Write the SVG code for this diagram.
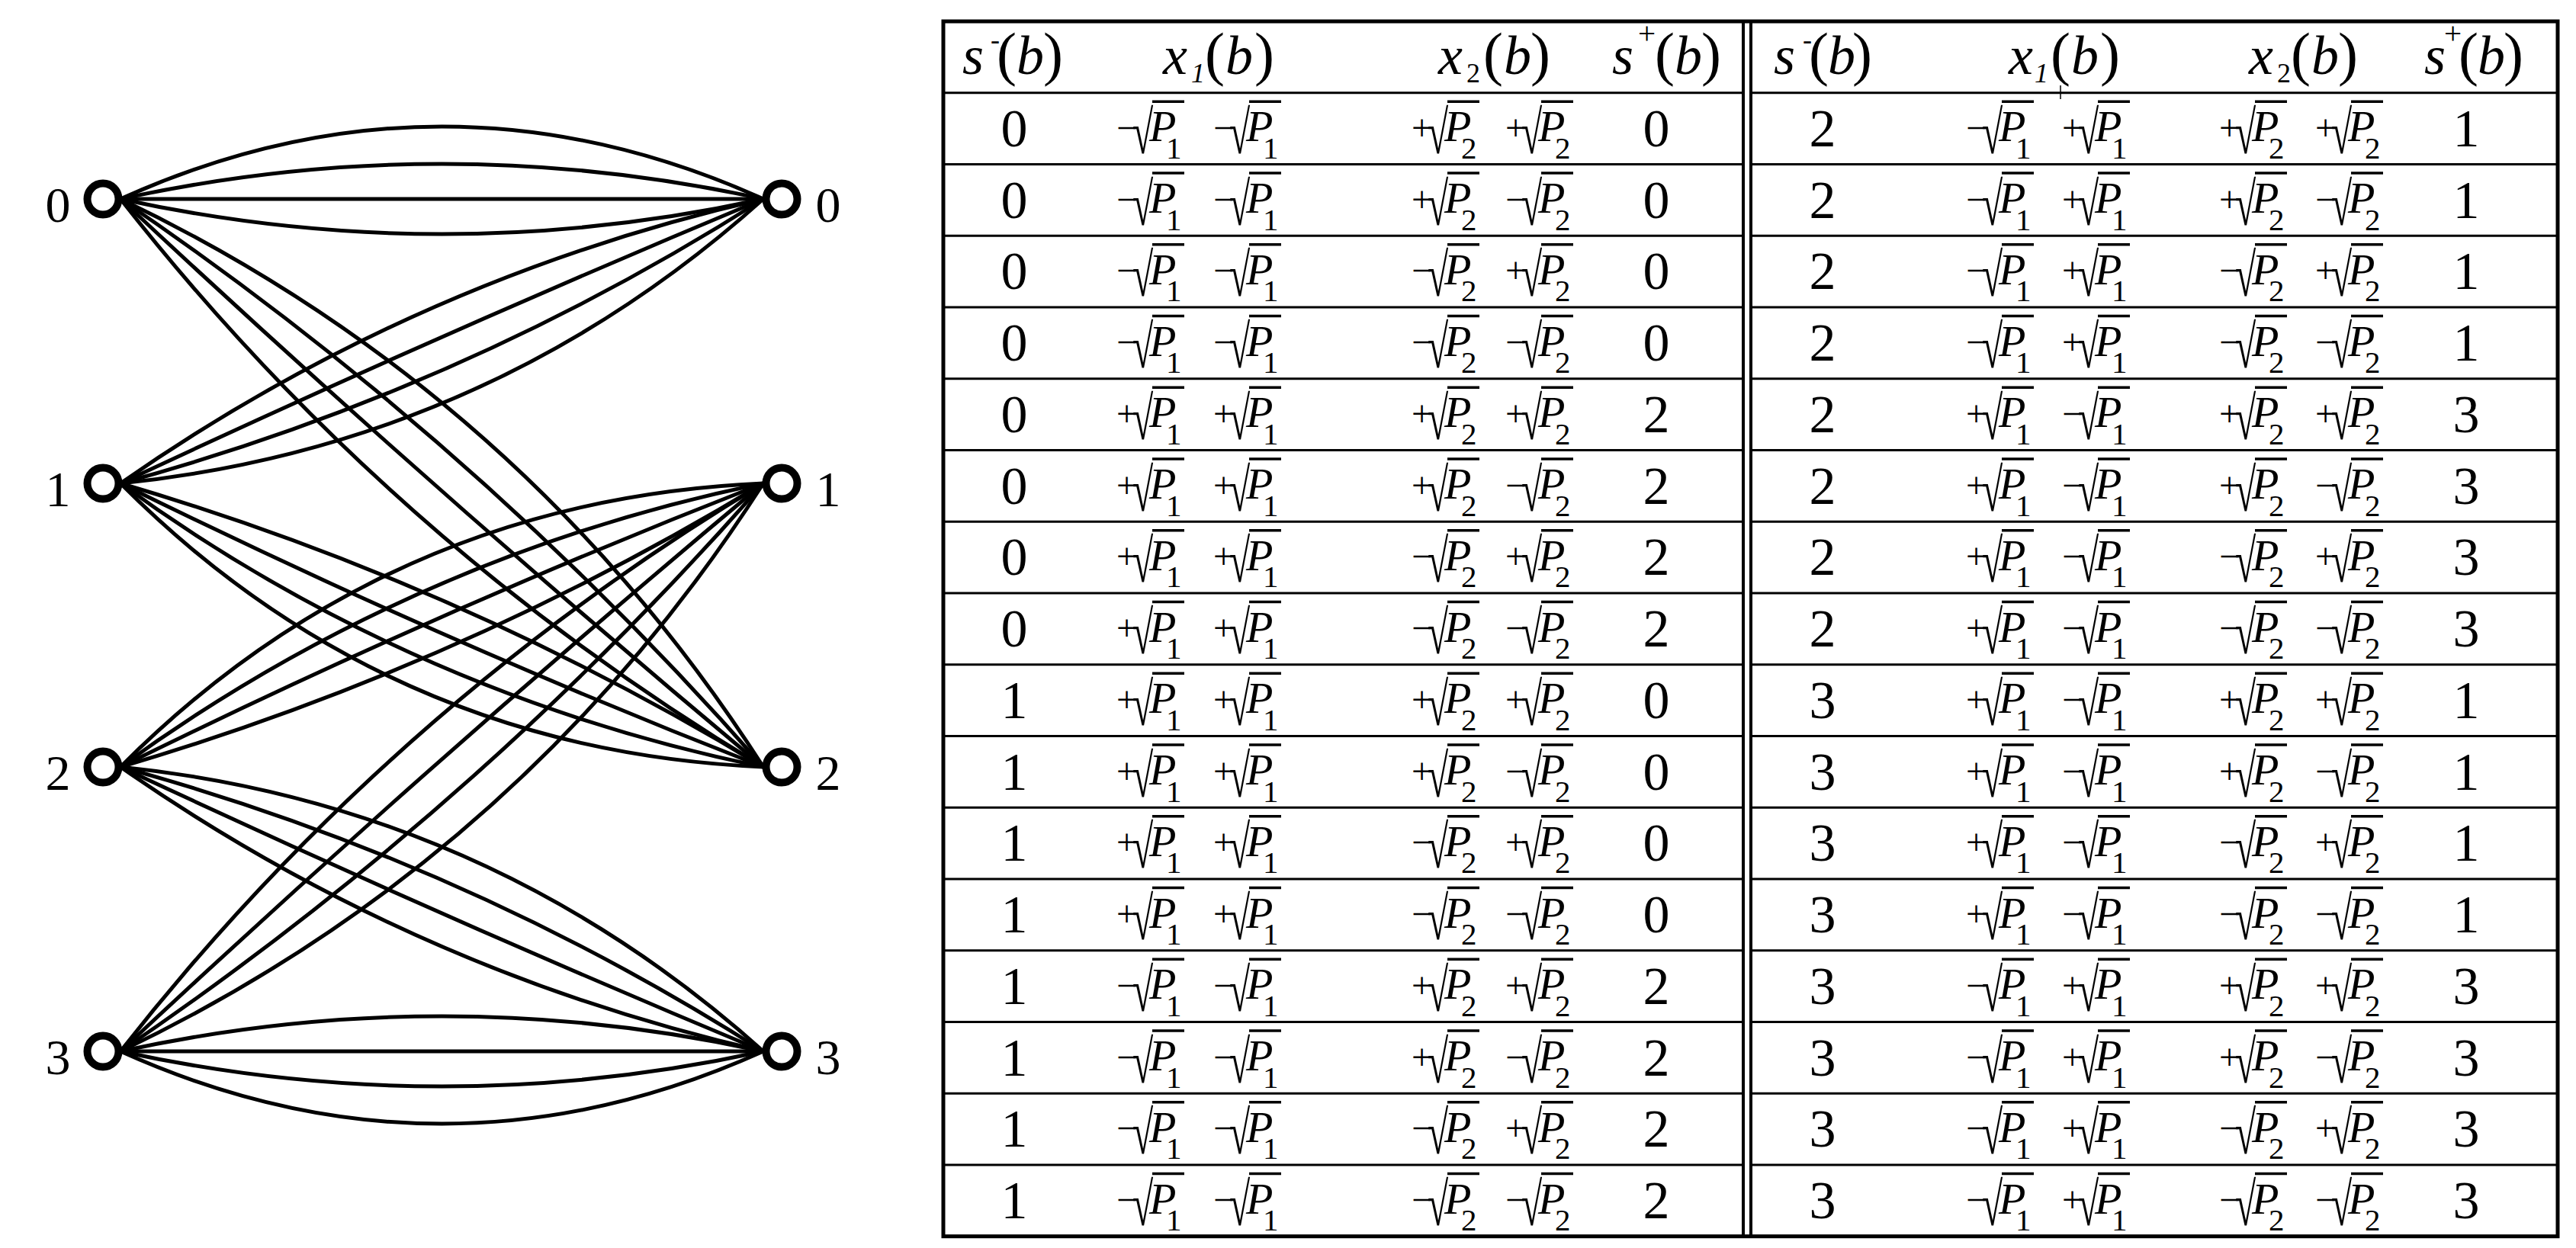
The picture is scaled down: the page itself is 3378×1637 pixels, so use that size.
<svg xmlns="http://www.w3.org/2000/svg" width="3378" height="1637" viewBox="0 0 3378 1637">
<style>
.t{font-family:"Liberation Serif","Times New Roman",serif;fill:#000}
.hi{font-size:72px;font-style:italic}
.hp{font-size:78px}
.hs{font-size:36px}
.hsi{font-size:36px;font-style:italic}
.d{font-size:70px;text-anchor:middle}
.sg{font-size:48px}
.rd{font-size:80px}
.P{font-size:58px;font-style:italic}
.sb{font-size:41px}
.lbl{font-size:66px;text-anchor:middle}
.e{fill:none;stroke:#000;stroke-width:5}
.nd{fill:#fff;stroke:#000;stroke-width:10}
.rl{stroke:#000;stroke-width:3}
.dl{stroke:#000;stroke-width:4}
.ol{fill:none;stroke:#000;stroke-width:5}
.vn{stroke:#000;stroke-width:3.5}
</style>
<defs>
<g id="m1"><text class="t sg" x="0" y="62">−</text><text class="t rd" transform="translate(21 79) scale(0.62 1)">√</text><line class="vn" x1="47" y1="11.5" x2="89" y2="11.5"/><text class="t P" x="43" y="63.5">P</text><text class="t sb" x="65" y="86">1</text></g>
<g id="p1"><text class="t sg" x="0" y="62">+</text><text class="t rd" transform="translate(21 79) scale(0.62 1)">√</text><line class="vn" x1="47" y1="11.5" x2="89" y2="11.5"/><text class="t P" x="43" y="63.5">P</text><text class="t sb" x="65" y="86">1</text></g>
<g id="m2"><text class="t sg" x="0" y="62">−</text><text class="t rd" transform="translate(21 79) scale(0.62 1)">√</text><line class="vn" x1="47" y1="11.5" x2="89" y2="11.5"/><text class="t P" x="43" y="63.5">P</text><text class="t sb" x="65" y="86">2</text></g>
<g id="p2"><text class="t sg" x="0" y="62">+</text><text class="t rd" transform="translate(21 79) scale(0.62 1)">√</text><line class="vn" x1="47" y1="11.5" x2="89" y2="11.5"/><text class="t P" x="43" y="63.5">P</text><text class="t sb" x="65" y="86">2</text></g>
</defs>
<rect width="3378" height="1637" fill="#fff"/>
<g id="connectors">
<path class="e" d="M158,261 Q579.5,71 1001,261"/>
<path class="e" d="M158,261 Q579.5,169 1001,261"/>
<path class="e" d="M158,261 L1001,261"/>
<path class="e" d="M158,261 Q579.5,353 1001,261"/>
<path class="e" d="M158,261 Q685.5,513.6 1001,1006"/>
<path class="e" d="M158,261 Q627.2,579.6 1001,1006"/>
<path class="e" d="M158,261 Q568.9,645.5 1001,1006"/>
<path class="e" d="M158,261 Q510.6,711.4 1001,1006"/>
<path class="e" d="M158,634 Q543.1,365.2 1001,261"/>
<path class="e" d="M158,634 Q575.5,438.4 1001,261"/>
<path class="e" d="M158,634 Q607.8,511.5 1001,261"/>
<path class="e" d="M158,634 Q640.2,584.7 1001,261"/>
<path class="e" d="M158,634 Q603.7,765.1 1001,1006"/>
<path class="e" d="M158,634 Q571.4,838.3 1001,1006"/>
<path class="e" d="M158,634 Q539.1,911.5 1001,1006"/>
<path class="e" d="M158,634 Q506.8,984.7 1001,1006"/>
<path class="e" d="M158,1006 Q603.7,874.9 1001,634"/>
<path class="e" d="M158,1006 Q571.4,801.7 1001,634"/>
<path class="e" d="M158,1006 Q539.1,728.5 1001,634"/>
<path class="e" d="M158,1006 Q506.8,655.3 1001,634"/>
<path class="e" d="M158,1006 Q543.1,1274.8 1001,1379"/>
<path class="e" d="M158,1006 Q575.5,1201.6 1001,1379"/>
<path class="e" d="M158,1006 Q607.8,1128.5 1001,1379"/>
<path class="e" d="M158,1006 Q640.2,1055.3 1001,1379"/>
<path class="e" d="M158,1379 Q685.5,1126.4 1001,634"/>
<path class="e" d="M158,1379 Q627.2,1060.4 1001,634"/>
<path class="e" d="M158,1379 Q568.9,994.5 1001,634"/>
<path class="e" d="M158,1379 Q510.6,928.6 1001,634"/>
<path class="e" d="M158,1379 Q579.5,1569 1001,1379"/>
<path class="e" d="M158,1379 Q579.5,1471 1001,1379"/>
<path class="e" d="M158,1379 L1001,1379"/>
<path class="e" d="M158,1379 Q579.5,1287 1001,1379"/>
</g>
<g id="L0"><circle class="nd" cx="135" cy="261" r="20.5"/><text class="t lbl" x="76" y="291">0</text></g>
<g id="L1"><circle class="nd" cx="135" cy="634" r="20.5"/><text class="t lbl" x="76" y="664">1</text></g>
<g id="L2"><circle class="nd" cx="135" cy="1006" r="20.5"/><text class="t lbl" x="76" y="1036">2</text></g>
<g id="L3"><circle class="nd" cx="135" cy="1379" r="20.5"/><text class="t lbl" x="76" y="1409">3</text></g>
<g id="R0"><circle class="nd" cx="1025" cy="261" r="20.5"/><text class="t lbl" x="1086" y="291">0</text></g>
<g id="R1"><circle class="nd" cx="1025" cy="634" r="20.5"/><text class="t lbl" x="1086" y="664">1</text></g>
<g id="R2"><circle class="nd" cx="1025" cy="1006" r="20.5"/><text class="t lbl" x="1086" y="1036">2</text></g>
<g id="R3"><circle class="nd" cx="1025" cy="1379" r="20.5"/><text class="t lbl" x="1086" y="1409">3</text></g>
<g id="table">
<rect class="ol" x="1237" y="28" width="2117" height="1593.7"/>
<line class="dl" x1="2286" y1="28" x2="2286" y2="1622"/>
<line class="dl" x1="2296" y1="28" x2="2296" y2="1622"/>
<g id="rowlines">
<line class="rl" x1="1237" y1="121.7" x2="2286" y2="121.7"/><line class="rl" x1="2296" y1="121.7" x2="3354" y2="121.7"/>
<line class="rl" x1="1237" y1="215.5" x2="2286" y2="215.5"/><line class="rl" x1="2296" y1="215.5" x2="3354" y2="215.5"/>
<line class="rl" x1="1237" y1="309.2" x2="2286" y2="309.2"/><line class="rl" x1="2296" y1="309.2" x2="3354" y2="309.2"/>
<line class="rl" x1="1237" y1="403" x2="2286" y2="403"/><line class="rl" x1="2296" y1="403" x2="3354" y2="403"/>
<line class="rl" x1="1237" y1="496.7" x2="2286" y2="496.7"/><line class="rl" x1="2296" y1="496.7" x2="3354" y2="496.7"/>
<line class="rl" x1="1237" y1="590.5" x2="2286" y2="590.5"/><line class="rl" x1="2296" y1="590.5" x2="3354" y2="590.5"/>
<line class="rl" x1="1237" y1="684.2" x2="2286" y2="684.2"/><line class="rl" x1="2296" y1="684.2" x2="3354" y2="684.2"/>
<line class="rl" x1="1237" y1="778" x2="2286" y2="778"/><line class="rl" x1="2296" y1="778" x2="3354" y2="778"/>
<line class="rl" x1="1237" y1="871.7" x2="2286" y2="871.7"/><line class="rl" x1="2296" y1="871.7" x2="3354" y2="871.7"/>
<line class="rl" x1="1237" y1="965.5" x2="2286" y2="965.5"/><line class="rl" x1="2296" y1="965.5" x2="3354" y2="965.5"/>
<line class="rl" x1="1237" y1="1059.2" x2="2286" y2="1059.2"/><line class="rl" x1="2296" y1="1059.2" x2="3354" y2="1059.2"/>
<line class="rl" x1="1237" y1="1153" x2="2286" y2="1153"/><line class="rl" x1="2296" y1="1153" x2="3354" y2="1153"/>
<line class="rl" x1="1237" y1="1246.7" x2="2286" y2="1246.7"/><line class="rl" x1="2296" y1="1246.7" x2="3354" y2="1246.7"/>
<line class="rl" x1="1237" y1="1340.5" x2="2286" y2="1340.5"/><line class="rl" x1="2296" y1="1340.5" x2="3354" y2="1340.5"/>
<line class="rl" x1="1237" y1="1434.2" x2="2286" y2="1434.2"/><line class="rl" x1="2296" y1="1434.2" x2="3354" y2="1434.2"/>
<line class="rl" x1="1237" y1="1528" x2="2286" y2="1528"/><line class="rl" x1="2296" y1="1528" x2="3354" y2="1528"/>
<line stroke="#000" stroke-width="1.5" x1="2702" y1="112" x2="2702" y2="130"/>
</g>
<g id="header">
<text class="t hi" x="1262" y="97">s</text><text class="t hs" x="1299" y="64">-</text><text class="t hp" x="1307" y="97">(</text><text class="t hi" x="1333" y="97">b</text><text class="t hp" x="1368" y="97">)</text>
<text class="t hi" x="1525" y="97">x</text><text class="t hsi" x="1562" y="108">1</text><text class="t hp" x="1580" y="97">(</text><text class="t hi" x="1607" y="97">b</text><text class="t hp" x="1645" y="97">)</text>
<text class="t hi" x="1886" y="97">x</text><text class="t hs" x="1923" y="108">2</text><text class="t hp" x="1945" y="97">(</text><text class="t hi" x="1972" y="97">b</text><text class="t hp" x="2007" y="97">)</text>
<text class="t hi" x="2114" y="97">s</text><text class="t sb" x="2148" y="57">+</text><text class="t hp" x="2170" y="97">(</text><text class="t hi" x="2196" y="97">b</text><text class="t hp" x="2231" y="97">)</text>
<text class="t hi" x="2326" y="97">s</text><text class="t hs" x="2364" y="64">-</text><text class="t hp" x="2372" y="97">(</text><text class="t hi" x="2397" y="97">b</text><text class="t hp" x="2429" y="97">)</text>
<text class="t hi" x="2634" y="97">x</text><text class="t hsi" x="2668" y="108">1</text><text class="t hp" x="2689" y="97">(</text><text class="t hi" x="2716" y="97">b</text><text class="t hp" x="2754" y="97">)</text>
<text class="t hi" x="2949" y="97">x</text><text class="t hs" x="2986" y="108">2</text><text class="t hp" x="3004" y="97">(</text><text class="t hi" x="3031" y="97">b</text><text class="t hp" x="3066" y="97">)</text>
<text class="t hi" x="3179" y="97">s</text><text class="t sb" x="3205" y="57">+</text><text class="t hp" x="3224" y="97">(</text><text class="t hi" x="3249" y="97">b</text><text class="t hp" x="3283" y="97">)</text>
</g>
<g id="left-rows">
<text class="t d" x="1330" y="192">0</text><use href="#m1" x="1464" y="121.7"/><use href="#m1" x="1591" y="121.7"/><use href="#p2" x="1851" y="121.7"/><use href="#p2" x="1974" y="121.7"/><text class="t d" x="2172" y="192">0</text>
<text class="t d" x="1330" y="285.5">0</text><use href="#m1" x="1464" y="215.5"/><use href="#m1" x="1591" y="215.5"/><use href="#p2" x="1851" y="215.5"/><use href="#m2" x="1974" y="215.5"/><text class="t d" x="2172" y="285.5">0</text>
<text class="t d" x="1330" y="379">0</text><use href="#m1" x="1464" y="309.2"/><use href="#m1" x="1591" y="309.2"/><use href="#m2" x="1851" y="309.2"/><use href="#p2" x="1974" y="309.2"/><text class="t d" x="2172" y="379">0</text>
<text class="t d" x="1330" y="473">0</text><use href="#m1" x="1464" y="403"/><use href="#m1" x="1591" y="403"/><use href="#m2" x="1851" y="403"/><use href="#m2" x="1974" y="403"/><text class="t d" x="2172" y="473">0</text>
<text class="t d" x="1330" y="567">0</text><use href="#p1" x="1464" y="496.7"/><use href="#p1" x="1591" y="496.7"/><use href="#p2" x="1851" y="496.7"/><use href="#p2" x="1974" y="496.7"/><text class="t d" x="2172" y="567">2</text>
<text class="t d" x="1330" y="660.5">0</text><use href="#p1" x="1464" y="590.5"/><use href="#p1" x="1591" y="590.5"/><use href="#p2" x="1851" y="590.5"/><use href="#m2" x="1974" y="590.5"/><text class="t d" x="2172" y="660.5">2</text>
<text class="t d" x="1330" y="754">0</text><use href="#p1" x="1464" y="684.2"/><use href="#p1" x="1591" y="684.2"/><use href="#m2" x="1851" y="684.2"/><use href="#p2" x="1974" y="684.2"/><text class="t d" x="2172" y="754">2</text>
<text class="t d" x="1330" y="848">0</text><use href="#p1" x="1464" y="778"/><use href="#p1" x="1591" y="778"/><use href="#m2" x="1851" y="778"/><use href="#m2" x="1974" y="778"/><text class="t d" x="2172" y="848">2</text>
<text class="t d" x="1330" y="942">1</text><use href="#p1" x="1464" y="871.7"/><use href="#p1" x="1591" y="871.7"/><use href="#p2" x="1851" y="871.7"/><use href="#p2" x="1974" y="871.7"/><text class="t d" x="2172" y="942">0</text>
<text class="t d" x="1330" y="1035.5">1</text><use href="#p1" x="1464" y="965.5"/><use href="#p1" x="1591" y="965.5"/><use href="#p2" x="1851" y="965.5"/><use href="#m2" x="1974" y="965.5"/><text class="t d" x="2172" y="1035.5">0</text>
<text class="t d" x="1330" y="1129">1</text><use href="#p1" x="1464" y="1059.2"/><use href="#p1" x="1591" y="1059.2"/><use href="#m2" x="1851" y="1059.2"/><use href="#p2" x="1974" y="1059.2"/><text class="t d" x="2172" y="1129">0</text>
<text class="t d" x="1330" y="1223">1</text><use href="#p1" x="1464" y="1153"/><use href="#p1" x="1591" y="1153"/><use href="#m2" x="1851" y="1153"/><use href="#m2" x="1974" y="1153"/><text class="t d" x="2172" y="1223">0</text>
<text class="t d" x="1330" y="1317">1</text><use href="#m1" x="1464" y="1246.7"/><use href="#m1" x="1591" y="1246.7"/><use href="#p2" x="1851" y="1246.7"/><use href="#p2" x="1974" y="1246.7"/><text class="t d" x="2172" y="1317">2</text>
<text class="t d" x="1330" y="1410.5">1</text><use href="#m1" x="1464" y="1340.5"/><use href="#m1" x="1591" y="1340.5"/><use href="#p2" x="1851" y="1340.5"/><use href="#m2" x="1974" y="1340.5"/><text class="t d" x="2172" y="1410.5">2</text>
<text class="t d" x="1330" y="1504">1</text><use href="#m1" x="1464" y="1434.2"/><use href="#m1" x="1591" y="1434.2"/><use href="#m2" x="1851" y="1434.2"/><use href="#p2" x="1974" y="1434.2"/><text class="t d" x="2172" y="1504">2</text>
<text class="t d" x="1330" y="1598">1</text><use href="#m1" x="1464" y="1528"/><use href="#m1" x="1591" y="1528"/><use href="#m2" x="1851" y="1528"/><use href="#m2" x="1974" y="1528"/><text class="t d" x="2172" y="1598">2</text>
</g>
<g id="right-rows">
<text class="t d" x="2390" y="192">2</text><use href="#m1" x="2578" y="121.7"/><use href="#p1" x="2704" y="121.7"/><use href="#p2" x="2910" y="121.7"/><use href="#p2" x="3036" y="121.7"/><text class="t d" x="3234" y="192">1</text>
<text class="t d" x="2390" y="285.5">2</text><use href="#m1" x="2578" y="215.5"/><use href="#p1" x="2704" y="215.5"/><use href="#p2" x="2910" y="215.5"/><use href="#m2" x="3036" y="215.5"/><text class="t d" x="3234" y="285.5">1</text>
<text class="t d" x="2390" y="379">2</text><use href="#m1" x="2578" y="309.2"/><use href="#p1" x="2704" y="309.2"/><use href="#m2" x="2910" y="309.2"/><use href="#p2" x="3036" y="309.2"/><text class="t d" x="3234" y="379">1</text>
<text class="t d" x="2390" y="473">2</text><use href="#m1" x="2578" y="403"/><use href="#p1" x="2704" y="403"/><use href="#m2" x="2910" y="403"/><use href="#m2" x="3036" y="403"/><text class="t d" x="3234" y="473">1</text>
<text class="t d" x="2390" y="567">2</text><use href="#p1" x="2578" y="496.7"/><use href="#m1" x="2704" y="496.7"/><use href="#p2" x="2910" y="496.7"/><use href="#p2" x="3036" y="496.7"/><text class="t d" x="3234" y="567">3</text>
<text class="t d" x="2390" y="660.5">2</text><use href="#p1" x="2578" y="590.5"/><use href="#m1" x="2704" y="590.5"/><use href="#p2" x="2910" y="590.5"/><use href="#m2" x="3036" y="590.5"/><text class="t d" x="3234" y="660.5">3</text>
<text class="t d" x="2390" y="754">2</text><use href="#p1" x="2578" y="684.2"/><use href="#m1" x="2704" y="684.2"/><use href="#m2" x="2910" y="684.2"/><use href="#p2" x="3036" y="684.2"/><text class="t d" x="3234" y="754">3</text>
<text class="t d" x="2390" y="848">2</text><use href="#p1" x="2578" y="778"/><use href="#m1" x="2704" y="778"/><use href="#m2" x="2910" y="778"/><use href="#m2" x="3036" y="778"/><text class="t d" x="3234" y="848">3</text>
<text class="t d" x="2390" y="942">3</text><use href="#p1" x="2578" y="871.7"/><use href="#m1" x="2704" y="871.7"/><use href="#p2" x="2910" y="871.7"/><use href="#p2" x="3036" y="871.7"/><text class="t d" x="3234" y="942">1</text>
<text class="t d" x="2390" y="1035.5">3</text><use href="#p1" x="2578" y="965.5"/><use href="#m1" x="2704" y="965.5"/><use href="#p2" x="2910" y="965.5"/><use href="#m2" x="3036" y="965.5"/><text class="t d" x="3234" y="1035.5">1</text>
<text class="t d" x="2390" y="1129">3</text><use href="#p1" x="2578" y="1059.2"/><use href="#m1" x="2704" y="1059.2"/><use href="#m2" x="2910" y="1059.2"/><use href="#p2" x="3036" y="1059.2"/><text class="t d" x="3234" y="1129">1</text>
<text class="t d" x="2390" y="1223">3</text><use href="#p1" x="2578" y="1153"/><use href="#m1" x="2704" y="1153"/><use href="#m2" x="2910" y="1153"/><use href="#m2" x="3036" y="1153"/><text class="t d" x="3234" y="1223">1</text>
<text class="t d" x="2390" y="1317">3</text><use href="#m1" x="2578" y="1246.7"/><use href="#p1" x="2704" y="1246.7"/><use href="#p2" x="2910" y="1246.7"/><use href="#p2" x="3036" y="1246.7"/><text class="t d" x="3234" y="1317">3</text>
<text class="t d" x="2390" y="1410.5">3</text><use href="#m1" x="2578" y="1340.5"/><use href="#p1" x="2704" y="1340.5"/><use href="#p2" x="2910" y="1340.5"/><use href="#m2" x="3036" y="1340.5"/><text class="t d" x="3234" y="1410.5">3</text>
<text class="t d" x="2390" y="1504">3</text><use href="#m1" x="2578" y="1434.2"/><use href="#p1" x="2704" y="1434.2"/><use href="#m2" x="2910" y="1434.2"/><use href="#p2" x="3036" y="1434.2"/><text class="t d" x="3234" y="1504">3</text>
<text class="t d" x="2390" y="1598">3</text><use href="#m1" x="2578" y="1528"/><use href="#p1" x="2704" y="1528"/><use href="#m2" x="2910" y="1528"/><use href="#m2" x="3036" y="1528"/><text class="t d" x="3234" y="1598">3</text>
</g>
</g>
</svg>
